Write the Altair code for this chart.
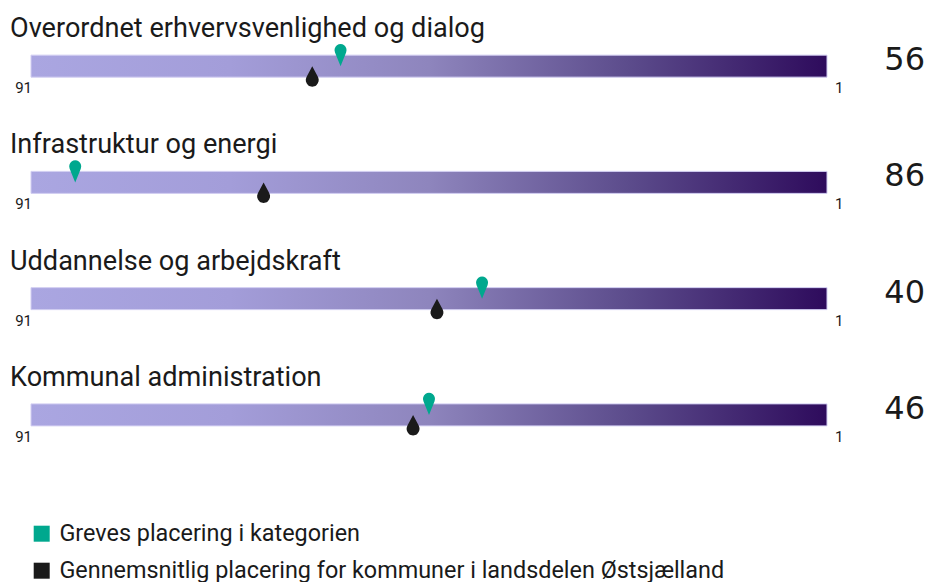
import altair as alt
import pandas as pd

categories = [
    "Overordnet erhvervsvenlighed og dialog",
    "Infrastruktur og energi",
    "Uddannelse og arbejdskraft",
    "Kommunal administration",
]
greve_rank = [56, 86, 40, 46]
avg_rank = [59.2, 64.7, 45.1, 47.8]
scale_ends = [91, 1]
series_names = [
    "Greves placering i kategorien",
    "Gennemsnitlig placering for kommuner i landsdelen Østsjælland",
]

GREEN = "#00a88e"
BLACK = "#1a1a1a"
FONT = "Roboto"

rows = pd.DataFrame({
    "cat": categories,
    "greve": greve_rank,
    "lo": scale_ends[0],
    "hi": scale_ends[1],
    "lo_label": str(scale_ends[0]),
    "hi_label": str(scale_ends[1]),
})
markers = pd.DataFrame({
    "cat": categories * 2,
    "rank": greve_rank + avg_rank,
    "series": [series_names[0]] * len(categories) + [series_names[1]] * len(categories),
})

xs = alt.Scale(domain=scale_ends, range=[23, 819], zero=False, nice=False)
ys = alt.Scale(type="band", domain=categories, range=[0, 465], paddingInner=0, paddingOuter=0)
Y = alt.Y("cat:N", scale=ys, axis=None)

grad = alt.Gradient(
    gradient="linear",
    stops=[
        alt.GradientStop(color="#aaa6e1", offset=0),
        alt.GradientStop(color="#a39dd9", offset=0.25),
        alt.GradientStop(color="#8e85bd", offset=0.5),
        alt.GradientStop(color="#5c4c8c", offset=0.75),
        alt.GradientStop(color="#2e0b5c", offset=1),
    ],
    x1=0, x2=1, y1=0, y2=0,
)

base = alt.Chart(rows)

bars = base.mark_bar(height=22, fill=grad, stroke="#d2cef2", strokeWidth=1).encode(
    x=alt.X("lo:Q", scale=xs, axis=None),
    x2="hi:Q",
    y=Y,
)

titles = base.mark_text(align="left", baseline="alphabetic", dy=-29, fontSize=27.1,
                        font=FONT, color=BLACK).encode(
    x=alt.value(2), y=Y, text="cat:N")

lo_lab = base.mark_text(align="right", baseline="alphabetic", dx=1, dy=27, fontSize=15,
                        font=FONT, color=BLACK).encode(
    x=alt.X("lo:Q", scale=xs, axis=None), y=Y, text="lo_label:N")

hi_lab = base.mark_text(align="left", baseline="alphabetic", dx=8, dy=27, fontSize=15,
                        font=FONT, color=BLACK).encode(
    x=alt.X("hi:Q", scale=xs, axis=None), y=Y, text="hi_label:N")

big = base.mark_text(align="right", baseline="alphabetic", dy=4, fontSize=32,
                     font="DejaVu Sans", color=BLACK).encode(
    x=alt.value(917), y=Y, text="greve:Q")

pin = "M0,0L-5.56,-13.75A6,6,0,1,1,5.56,-13.75Z"
drop = "M0,0L5.75,10.98A6.5,6.5,0,1,1,-5.75,10.98Z"

color = alt.Color(
    "series:N",
    scale=alt.Scale(domain=series_names, range=[GREEN, BLACK]),
    legend=alt.Legend(
        title=None, orient="none", legendX=22, legendY=514,
        symbolType="square", symbolSize=256, symbolStrokeWidth=0,
        labelFontSize=23.4, labelFont=FONT, labelColor=BLACK, labelLimit=2000,
        labelOffset=6, rowPadding=12, direction="vertical",
    ),
)

avg_pts = alt.Chart(markers).transform_filter(
    alt.datum.series == series_names[1]
).mark_point(shape=drop, size=4, filled=True, opacity=1, strokeWidth=0).encode(
    x=alt.X("rank:Q", scale=xs, axis=None), y=Y, color=color)

greve_pts = alt.Chart(markers).transform_filter(
    alt.datum.series == series_names[0]
).mark_point(shape=pin, size=4, filled=True, opacity=1, strokeWidth=0).encode(
    x=alt.X("rank:Q", scale=xs, axis=None), y=Y, color=color)

chart = alt.layer(bars, titles, lo_lab, hi_lab, big, avg_pts, greve_pts).properties(
    width=917, height=574, padding=0,
    autosize=alt.AutoSizeParams(type="none"),
    background="white",
).configure_view(stroke=None)

chart.save("out.html", embed_options={"renderer": "svg", "actions": False})
